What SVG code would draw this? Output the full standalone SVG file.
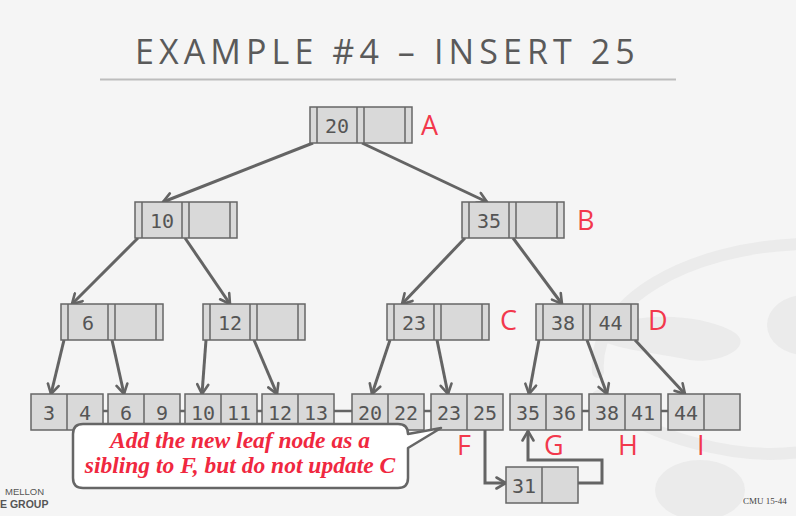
<svg xmlns="http://www.w3.org/2000/svg" xmlns:xlink="http://www.w3.org/1999/xlink" width="796" height="516" viewBox="0 0 796 516">
<style>
.bg{fill:#f5f5f5}
.wm{fill:none;stroke:#ebebeb;stroke-width:12;stroke-linecap:round}
.wmf{fill:#ebebeb}
.title{font-family:"Open Sans",sans-serif;font-size:34px;fill:#5a5a5a;letter-spacing:5.1px}
.cell{fill:#d9d9d9;stroke:#666;stroke-width:1.5}
.div{stroke:#666;stroke-width:1.5}
.key{font-family:"DejaVu Sans Mono",monospace;font-size:20px;fill:#555;text-anchor:middle}
.lbl{font-family:"Open Sans",sans-serif;font-size:27px;fill:#f2384c}
.edge{fill:none;stroke:#646464;stroke-width:3}
.sib{stroke:#646464;stroke-width:2.5}
.callout{fill:#ffffff;stroke:#666;stroke-width:2.5;stroke-linejoin:round}
.ctext{font-family:"Liberation Serif",serif;font-weight:bold;font-style:italic;font-size:23.5px;fill:#f0283f;text-anchor:middle}
.foot{font-family:"Liberation Sans",sans-serif;fill:#555}
</style>
<defs>
<g id="inode">
<rect class="cell" x="0" y="0" width="102" height="36"/>
<line class="div" x1="7" y1="0" x2="7" y2="36"/>
<line class="div" x1="47" y1="0" x2="47" y2="36"/>
<line class="div" x1="54" y1="0" x2="54" y2="36"/>
<line class="div" x1="95" y1="0" x2="95" y2="36"/>
</g>
<g id="leaf">
<rect class="cell" x="0" y="0" width="72" height="36"/>
<line class="div" x1="36" y1="0" x2="36" y2="36"/>
</g>
<marker id="ah" viewBox="0 0 14 14" refX="12" refY="7" markerWidth="14" markerHeight="14" markerUnits="userSpaceOnUse" orient="auto">
<path d="M2.5,1.5 L12,7 L2.5,12.5" fill="none" stroke="#646464" stroke-width="2.6" stroke-linecap="round"/>
</marker>
</defs>
<rect class="bg" x="0" y="0" width="796" height="516"/>
<g id="watermark">
<path class="wm" d="M598,372 C592,300 690,248 800,244"/>
<path class="wm" d="M598,396 C650,440 740,460 800,452"/>
<ellipse class="wmf" cx="805" cy="325" rx="38" ry="30"/>
<path class="wmf" d="M600,330 C640,310 700,315 730,330 C760,345 720,365 690,360 C650,352 620,350 600,340 Z"/>
<ellipse class="wmf" cx="700" cy="490" rx="45" ry="30"/>
</g>
<g id="title">
<text class="title" x="135" y="64">EXAMPLE #4 – INSERT 25</text>
<line x1="100" y1="79.5" x2="676" y2="79.5" stroke="#bdbdbd" stroke-width="2"/>
</g>
<g id="connectors">
<line class="edge" marker-end="url(#ah)" x1="313" y1="143" x2="163" y2="202"/>
<line class="edge" marker-end="url(#ah)" x1="362" y1="143" x2="487" y2="202"/>
<line class="edge" marker-end="url(#ah)" x1="138" y1="238" x2="72" y2="304"/>
<line class="edge" marker-end="url(#ah)" x1="185" y1="238" x2="230" y2="304"/>
<line class="edge" marker-end="url(#ah)" x1="465" y1="238" x2="402" y2="304"/>
<line class="edge" marker-end="url(#ah)" x1="513" y1="238" x2="562" y2="304"/>
<line class="edge" marker-end="url(#ah)" x1="64" y1="340" x2="51" y2="394"/>
<line class="edge" marker-end="url(#ah)" x1="112" y1="340" x2="124" y2="394"/>
<line class="edge" marker-end="url(#ah)" x1="206" y1="340" x2="202" y2="394"/>
<line class="edge" marker-end="url(#ah)" x1="254" y1="340" x2="277" y2="394"/>
<line class="edge" marker-end="url(#ah)" x1="390" y1="340" x2="372" y2="394"/>
<line class="edge" marker-end="url(#ah)" x1="437" y1="340" x2="448" y2="394"/>
<line class="edge" marker-end="url(#ah)" x1="539" y1="340" x2="529" y2="394"/>
<line class="edge" marker-end="url(#ah)" x1="587" y1="340" x2="607" y2="394"/>
<line class="edge" marker-end="url(#ah)" x1="635" y1="340" x2="685" y2="394"/>
<line class="sib" x1="103" y1="411" x2="108" y2="411"/>
<line class="sib" x1="180" y1="411" x2="185" y2="411"/>
<line class="sib" x1="257" y1="411" x2="262" y2="411"/>
<line class="sib" x1="334" y1="411" x2="352" y2="411"/>
<line class="sib" x1="424" y1="411" x2="431" y2="411"/>
<line class="sib" x1="582" y1="411" x2="589" y2="411"/>
<line class="sib" x1="661" y1="411" x2="668" y2="411"/>
<polyline class="edge" marker-end="url(#ah)" points="485,430 485,483 506,483"/>
<polyline class="edge" marker-end="url(#ah)" points="577,483 602,483 602,460 528,460 528,431"/>
</g>
<g id="nodeA" transform="translate(310,107)"><use xlink:href="#inode"/><text class="key" x="27" y="26">20</text></g>
<g id="nodeB1" transform="translate(135,202)"><use xlink:href="#inode"/><text class="key" x="27" y="26">10</text></g>
<g id="nodeB" transform="translate(462,202)"><use xlink:href="#inode"/><text class="key" x="27" y="26">35</text></g>
<g id="node6" transform="translate(61,304)"><use xlink:href="#inode"/><text class="key" x="27" y="26">6</text></g>
<g id="node12" transform="translate(203,304)"><use xlink:href="#inode"/><text class="key" x="27" y="26">12</text></g>
<g id="nodeC" transform="translate(387,304)"><use xlink:href="#inode"/><text class="key" x="27" y="26">23</text></g>
<g id="nodeD" transform="translate(536,304)"><use xlink:href="#inode"/><text class="key" x="27" y="26">38</text><text class="key" x="74.5" y="26">44</text></g>
<g id="leaf3" transform="translate(31,394)"><use xlink:href="#leaf"/><text class="key" x="18" y="26">3</text><text class="key" x="54" y="26">4</text></g>
<g id="leaf6" transform="translate(108,394)"><use xlink:href="#leaf"/><text class="key" x="18" y="26">6</text><text class="key" x="54" y="26">9</text></g>
<g id="leaf10" transform="translate(185,394)"><use xlink:href="#leaf"/><text class="key" x="18" y="26">10</text><text class="key" x="54" y="26">11</text></g>
<g id="leaf12" transform="translate(262,394)"><use xlink:href="#leaf"/><text class="key" x="18" y="26">12</text><text class="key" x="54" y="26">13</text></g>
<g id="leaf20" transform="translate(352,394)"><use xlink:href="#leaf"/><text class="key" x="18" y="26">20</text><text class="key" x="54" y="26">22</text></g>
<g id="leafF" transform="translate(431,394)"><use xlink:href="#leaf"/><text class="key" x="18" y="26">23</text><text class="key" x="54" y="26">25</text></g>
<g id="leafG" transform="translate(510,394)"><use xlink:href="#leaf"/><text class="key" x="18" y="26">35</text><text class="key" x="54" y="26">36</text></g>
<g id="leafH" transform="translate(589,394)"><use xlink:href="#leaf"/><text class="key" x="18" y="26">38</text><text class="key" x="54" y="26">41</text></g>
<g id="leafI" transform="translate(668,394)"><use xlink:href="#leaf"/><text class="key" x="18" y="26">44</text></g>
<g id="leaf31" transform="translate(506,467)"><use xlink:href="#leaf"/><text class="key" x="18" y="26">31</text></g>
<g id="labels">
<text class="lbl" x="421" y="135">A</text>
<text class="lbl" x="577" y="230">B</text>
<text class="lbl" x="500" y="330">C</text>
<text class="lbl" x="648" y="330">D</text>
<text class="lbl" x="457" y="455">F</text>
<text class="lbl" x="544" y="455">G</text>
<text class="lbl" x="618" y="455">H</text>
<text class="lbl" x="697" y="455">I</text>
</g>
<g id="callout">
<path class="callout" d="M83,424 H398 Q408,424 408,434 L441,428 L408,448 V478 Q408,488 398,488 H83 Q73,488 73,478 V434 Q73,424 83,424 Z"/>
<text class="ctext" x="240" y="448">Add the new leaf node as a</text>
<text class="ctext" x="240" y="473">sibling to F, but do not update C</text>
</g>
<g id="footer">
<text class="foot" x="5" y="495" font-size="9.5">MELLON</text>
<text class="foot" x="0" y="507.5" font-size="10.5" font-weight="bold">E GROUP</text>
<text x="743" y="504" font-family="Liberation Serif, serif" font-size="9" fill="#444">CMU 15-44</text>
</g>
</svg>
